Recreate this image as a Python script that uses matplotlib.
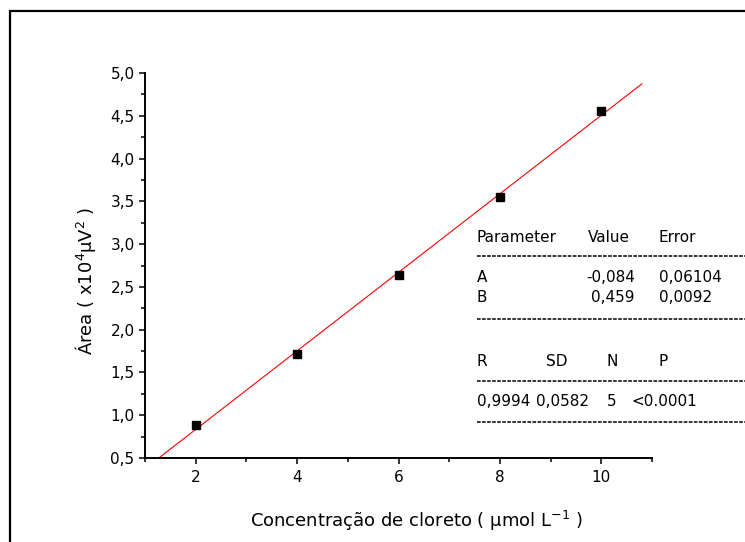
import numpy as np
import matplotlib
matplotlib.use("Agg")
import matplotlib.pyplot as plt
from matplotlib.lines import Line2D
from matplotlib.patches import Rectangle

# --- data ---------------------------------------------------------------
conc = [2, 4, 6, 8, 10]                 # µmol L-1
area = [0.89, 1.71, 2.64, 3.55, 4.56]   # x10^4 µV^2
intercept = -0.084
slope = 0.459
fit_range = [1.0, 10.8]

xticks = [2, 4, 6, 8, 10]
yticks = [0.5, 1.0, 1.5, 2.0, 2.5, 3.0, 3.5, 4.0, 4.5, 5.0]

param_header = ["Parameter", "Value", "Error"]
param_names = ["A", "B"]
param_values = ["-0,084", "0,459"]
param_errors = ["0,06104", "0,0092"]
stat_header = ["R", "SD", "N", "P"]
stat_values = ["0,9994", "0,0582", "5", "<0.0001"]

W, H = 745, 542
plt.rcParams["font.family"] = "DejaVu Sans"
plt.rcParams["mathtext.default"] = "regular"


def fx(px):
    return px / W


def fy(py):
    return 1 - py / H


fig = plt.figure(figsize=(W / 100, H / 100), dpi=100)
ax = fig.add_axes([fx(145), fy(458), fx(652) - fx(145), fy(73) - fy(458)])

xs = np.array(fit_range)
ax.plot(xs, intercept + slope * xs, color="red", lw=0.8, zorder=2)
ax.plot(conc, area, "s", color="black", ms=5.5, zorder=3)

ax.set_xlim(1, 11)
ax.set_ylim(0.5, 5.0)
ax.set_xticks(xticks)
ax.set_xticks([1, 3, 5, 7, 9, 11], minor=True)
ax.set_yticks(yticks)
ax.set_yticks(np.arange(0.75, 5.0, 0.5), minor=True)
ax.set_yticklabels([f"{v:.1f}".replace(".", ",") for v in yticks])
for s in ("top", "right"):
    ax.spines[s].set_visible(False)
for s in ("left", "bottom"):
    ax.spines[s].set_linewidth(1.4)
ax.tick_params(which="major", direction="out", length=4.5, width=1.1,
               labelsize=11)
ax.tick_params(which="minor", direction="out", length=3, width=1.1)
ax.tick_params(axis="x", pad=4.5)
ax.tick_params(axis="y", pad=3)

fig.text(fx(416), fy(521), r"Concentração de cloreto ( µmol L$^{-1}$ )",
         ha="center", va="center", fontsize=13)
fig.text(fx(85), fy(281), r"Área ( x10$^{4}$µV$^{2}$ )", rotation=90,
         ha="center", va="center", fontsize=13)

# --- fit results table ------------------------------------------------------
fs = 11
fig.text(fx(477), fy(237), param_header[0], va="center", fontsize=fs)
fig.text(fx(588), fy(237), param_header[1], va="center", fontsize=fs)
fig.text(fx(659), fy(237), param_header[2], va="center", fontsize=fs)
for i, yy in enumerate([278, 298]):
    fig.text(fx(477), fy(yy), param_names[i], va="center", fontsize=fs)
    fig.text(fx(635), fy(yy), param_values[i], va="center", ha="right",
             fontsize=fs)
    fig.text(fx(659), fy(yy), param_errors[i], va="center", fontsize=fs)
for lab, xx in zip(stat_header, [477, 546, 607, 659]):
    fig.text(fx(xx), fy(361), lab, va="center", fontsize=fs)
for val, xx in zip(stat_values, [477, 536, 607, 631]):
    fig.text(fx(xx), fy(401), val, va="center", fontsize=fs)
for yy in [256, 319, 381, 422]:
    fig.add_artist(Line2D([fx(477), fx(760)], [fy(yy), fy(yy)],
                          color="black", lw=1.1,
                          linestyle=(0, (2.4, 0.9))))

# page border (Origin layer frame, clipped on the right and bottom)
fig.add_artist(Rectangle((fx(10), fy(600)), fx(800), fy(10.5) - fy(600),
                         fill=False, edgecolor="black", lw=1.6))

fig.savefig("out.png", dpi=100)
